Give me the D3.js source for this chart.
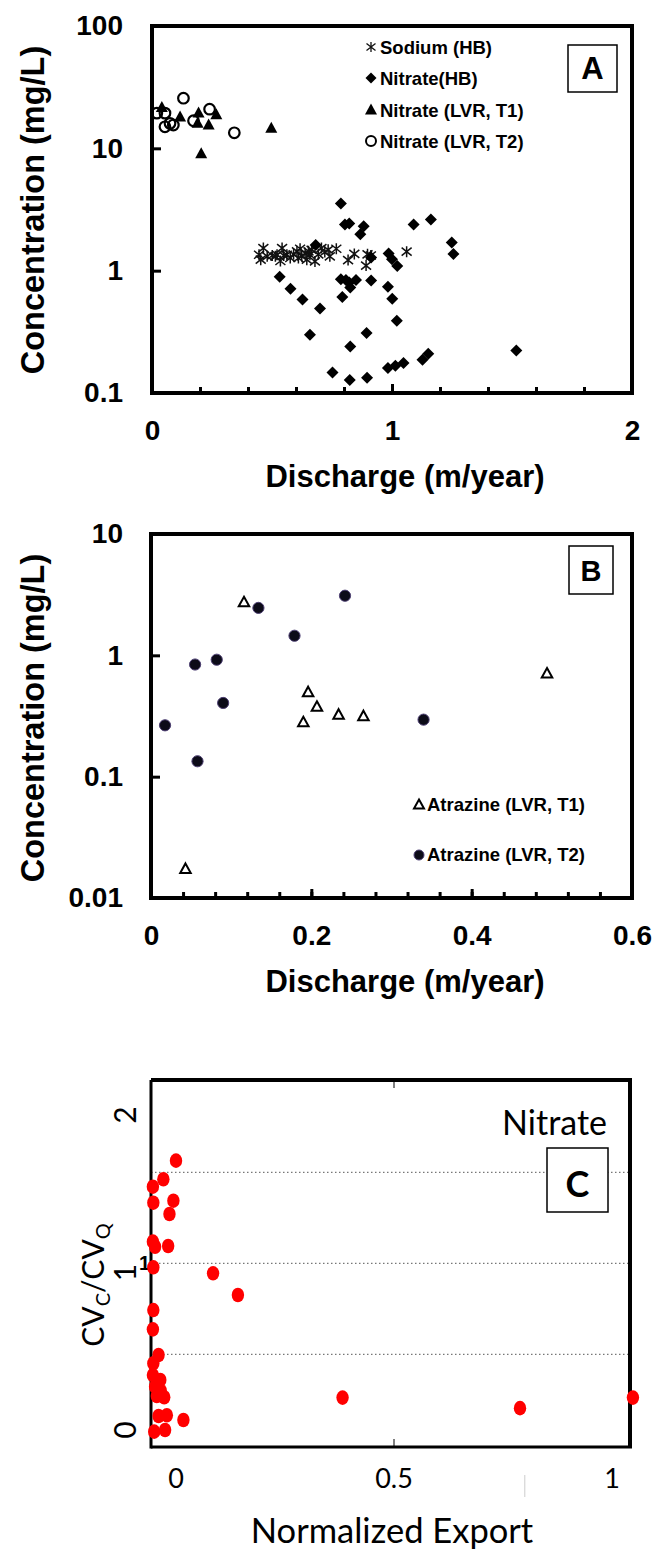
<!DOCTYPE html>
<html><head><meta charset="utf-8">
<script src="https://cdn.jsdelivr.net/npm/d3@7"></script>
<style>body{margin:0;background:#fff}</style>
</head><body>
<svg id="c" width="652" height="1549"></svg>
<script>
// ---------- Panel A data: [discharge (m/year), concentration (mg/L)] ----------
const sodiumHB = [[0.446,1.35],[0.453,1.23],[0.464,1.53],[0.480,1.31],[0.501,1.33],[0.514,1.31],[0.521,1.35],[0.535,1.20],[0.542,1.53],[0.549,1.33],[0.562,1.35],[0.576,1.27],[0.590,1.36],[0.604,1.44],[0.610,1.27],[0.617,1.51],[0.624,1.31],[0.638,1.39],[0.645,1.23],[0.652,1.44],[0.658,1.35],[0.665,1.48],[0.679,1.19],[0.693,1.36],[0.706,1.53],[0.720,1.42],[0.734,1.48],[0.741,1.31],[0.768,1.51],[0.817,1.22],[0.843,1.37],[0.892,1.10],[0.898,1.36],[0.912,1.33],[1.061,1.43]];
const nitrateHB = [[0.787,3.54],[0.804,2.39],[0.822,2.43],[0.882,2.31],[0.868,1.98],[1.090,2.39],[1.162,2.62],[1.249,1.70],[1.256,1.37],[0.682,1.62],[0.913,1.28],[0.986,1.38],[1.000,1.24],[1.022,1.09],[0.532,0.89],[0.577,0.71],[0.627,0.58],[0.700,0.49],[0.787,0.85],[0.808,0.84],[0.826,0.73],[0.850,0.84],[0.822,0.80],[0.913,0.83],[0.983,0.74],[1.001,0.59],[1.020,0.39],[0.793,0.61],[0.658,0.30],[0.894,0.31],[0.826,0.24],[0.752,0.147],[0.824,0.128],[0.896,0.133],[0.983,0.160],[1.014,0.167],[1.048,0.176],[1.127,0.187],[1.151,0.209],[1.518,0.223]];
const nitrateT1 = [[0.041,21.5],[0.117,18.0],[0.194,19.4],[0.190,16.0],[0.236,15.5],[0.268,18.8],[0.497,14.6],[0.205,9.0]];
const nitrateT2 = [[0.131,25.7],[0.020,19.4],[0.054,19.4],[0.054,15.0],[0.075,16.0],[0.089,15.5],[0.173,16.8],[0.240,20.9],[0.343,13.4]];
const legendA = ["Sodium (HB)","Nitrate(HB)","Nitrate (LVR, T1)","Nitrate (LVR, T2)"];
const yTicksA = [0.1,1,10,100];
const xTicksA = [0,1,2];

// ---------- Panel B data ----------
const atrazineT1 = [[0.043,0.0173],[0.116,2.73],[0.190,0.28],[0.196,0.495],[0.207,0.375],[0.234,0.323],[0.265,0.314],[0.494,0.706]];
const atrazineT2 = [[0.0175,0.265],[0.055,0.84],[0.058,0.134],[0.082,0.92],[0.090,0.405],[0.134,2.46],[0.179,1.45],[0.242,3.10],[0.340,0.295]];
const legendB = ["Atrazine (LVR, T1)","Atrazine (LVR, T2)"];
const yTicksB = [0.01,0.1,1,10];
const xTicksB = [0,0.2,0.4,0.6];

// ---------- Panel C data: [normalized export, CVc/CVq] ----------
const nitrateCV = [[0.000,1.564],[-0.029,1.462],[-0.053,1.421],[-0.052,1.333],[-0.006,1.344],[-0.015,1.271],[-0.053,1.119],[-0.048,1.091],[-0.018,1.095],[-0.052,0.978],[0.085,0.945],[0.142,0.826],[-0.052,0.743],[-0.053,0.637],[-0.040,0.496],[-0.052,0.450],[-0.053,0.386],[-0.036,0.359],[-0.048,0.322],[-0.035,0.300],[-0.027,0.264],[-0.044,0.271],[-0.040,0.161],[-0.021,0.165],[0.017,0.139],[-0.050,0.075],[-0.025,0.084],[0.382,0.262],[0.789,0.204],[1.048,0.262]];
const yTicksC = [0,1,2];
const xTicksC = [0,0.5,1];
const gridC = [0.5,1,1.5];

const svg = d3.select("#c");
const ARIAL = "'Liberation Sans', Arial, sans-serif";
const CAL = "Lato, 'Open Sans', sans-serif";

function box(g, x0, x1, y0, y1, w){
  g.append("rect").attr("x",x0).attr("y",y0).attr("width",x1-x0).attr("height",y1-y0)
   .attr("fill","none").attr("stroke","#000").attr("stroke-width",w);
}
const diamond = r => `M0,${-r}L${r},0L0,${r}L${-r},0Z`;
const tri = (w,h) => `M0,${-h*0.6}L${w/2},${h*0.4}L${-w/2},${h*0.4}Z`;
const star = r => `M${-r},${-r*0.8}L${r},${r*0.8}M${-r},${r*0.8}L${r},${-r*0.8}M0,${-r*1.1}L0,${r*1.1}`;
const styleTicks = sel => sel.attr("font-family",ARIAL).attr("font-weight","bold").attr("font-size",28).attr("fill","#000");

// ================= PANEL A =================
{
  const x = d3.scaleLinear([0,2],[152,632]);
  const y = d3.scaleLog([0.1,100],[393,26]);
  const g = svg.append("g");
  g.append("g").attr("transform",`translate(0,${y(0.1)})`)
    .call(d3.axisBottom(x).tickValues(d3.range(0.2,2,0.2)).tickSizeInner(-6).tickSizeOuter(0).tickFormat(""))
    .call(a=>a.select(".domain").remove()).selectAll("line").attr("stroke-width",3);
  g.append("g").attr("transform",`translate(0,${y(0.1)})`)
    .call(d3.axisBottom(x).tickValues(xTicksA).tickSizeInner(-9).tickSizeOuter(0).tickPadding(27).tickFormat(d=>String(d)))
    .call(a=>a.select(".domain").remove())
    .call(a=>a.selectAll("line").attr("stroke-width",3))
    .selectAll("text").call(styleTicks);
  g.append("g").attr("transform",`translate(${x(0)},0)`)
    .call(d3.axisLeft(y).tickValues(yTicksA).tickFormat(d=>String(d)).tickSizeInner(-9).tickSizeOuter(0).tickPadding(29))
    .call(a=>a.select(".domain").remove())
    .call(a=>a.selectAll("line").attr("stroke-width",3))
    .selectAll("text").call(styleTicks);
  box(g, x(0), x(2), y(100), y(0.1), 4);

  g.selectAll(".na").data(sodiumHB).join("path").attr("d",star(5))
    .attr("transform",d=>`translate(${x(d[0])},${y(d[1])})`).attr("stroke","#111").attr("stroke-width",1.5).attr("fill","none");
  g.selectAll(".no").data(nitrateHB).join("path").attr("d",diamond(6))
    .attr("transform",d=>`translate(${x(d[0])},${y(d[1])})`).attr("fill","#000");
  g.selectAll(".t1").data(nitrateT1).join("path").attr("d",tri(12,11))
    .attr("transform",d=>`translate(${x(d[0])},${y(d[1])})`).attr("fill","#000");
  g.selectAll(".t2").data(nitrateT2).join("circle").attr("r",5.3)
    .attr("cx",d=>x(d[0])).attr("cy",d=>y(d[1])).attr("fill","none").attr("stroke","#000").attr("stroke-width",2.2);

  const ly = [54,85,117,148];
  const lg = g.append("g");
  legendA.forEach((t,i)=>{
    const mx = 371, my = ly[i]-7;
    if(i===0) lg.append("path").attr("d",star(4.5)).attr("transform",`translate(${mx},${my})`).attr("stroke","#111").attr("stroke-width",1.3);
    if(i===1) lg.append("path").attr("d",diamond(5.5)).attr("transform",`translate(${mx},${my})`);
    if(i===2) lg.append("path").attr("d",tri(12,11)).attr("transform",`translate(${mx},${my})`);
    if(i===3) lg.append("circle").attr("r",5).attr("cx",mx).attr("cy",my).attr("fill","none").attr("stroke","#000").attr("stroke-width",2);
    lg.append("text").attr("x",380).attr("y",ly[i]).text(t)
      .attr("font-family",ARIAL).attr("font-weight","bold").attr("font-size",18.5);
  });
  box(g, 568, 617, 45, 92, 1.5);
  g.append("text").attr("x",592.5).attr("y",79).attr("text-anchor","middle").text("A")
    .attr("font-family",ARIAL).attr("font-weight","bold").attr("font-size",31);

  g.append("text").attr("x",405).attr("y",487).attr("text-anchor","middle").text("Discharge (m/year)")
    .attr("font-family",ARIAL).attr("font-weight","bold").attr("font-size",31);
  g.append("text").attr("transform","translate(44,210) rotate(-90)").attr("text-anchor","middle").text("Concentration (mg/L)")
    .attr("font-family",ARIAL).attr("font-weight","bold").attr("font-size",32.5);
}

// ================= PANEL B =================
{
  const x = d3.scaleLinear([0,0.6],[151,632]);
  const y = d3.scaleLog([0.01,10],[898,534]);
  const g = svg.append("g");
  g.append("g").attr("transform",`translate(0,${y(0.01)})`)
    .call(d3.axisBottom(x).tickValues(d3.range(1,15).map(i=>i*0.04)).tickSizeInner(-6).tickSizeOuter(0).tickFormat(""))
    .call(a=>a.select(".domain").remove()).selectAll("line").attr("stroke-width",3);
  g.append("g").attr("transform",`translate(0,${y(0.01)})`)
    .call(d3.axisBottom(x).tickValues(xTicksB).tickSizeInner(-9).tickSizeOuter(0).tickPadding(27).tickFormat(d=>String(d)))
    .call(a=>a.select(".domain").remove())
    .call(a=>a.selectAll("line").attr("stroke-width",3))
    .selectAll("text").call(styleTicks);
  g.append("g").attr("transform",`translate(${x(0)},0)`)
    .call(d3.axisLeft(y).tickValues(yTicksB).tickFormat(d=>String(d)).tickSizeInner(-9).tickSizeOuter(0).tickPadding(28))
    .call(a=>a.select(".domain").remove())
    .call(a=>a.selectAll("line").attr("stroke-width",3))
    .selectAll("text").call(styleTicks);
  box(g, x(0), x(0.6), y(10), y(0.01), 4);

  g.selectAll(".b1").data(atrazineT1).join("path").attr("d",tri(10.5,9.5))
    .attr("transform",d=>`translate(${x(d[0])},${y(d[1])})`).attr("fill","#fff").attr("stroke","#000").attr("stroke-width",2);
  g.selectAll(".b2").data(atrazineT2).join("circle").attr("r",5.6)
    .attr("cx",d=>x(d[0])).attr("cy",d=>y(d[1])).attr("fill","#0c0b18").attr("stroke","#4d3f73").attr("stroke-width",1);

  const ly = [811,861];
  legendB.forEach((t,i)=>{
    if(i===0) g.append("path").attr("d",tri(10,9)).attr("transform",`translate(419,${ly[i]-6})`).attr("fill","#fff").attr("stroke","#000").attr("stroke-width",2);
    else g.append("circle").attr("r",5).attr("cx",419).attr("cy",ly[i]-6).attr("fill","#0c0b18").attr("stroke","#4d3f73");
    g.append("text").attr("x",427).attr("y",ly[i]).text(t)
      .attr("font-family",ARIAL).attr("font-weight","bold").attr("font-size",18.5);
  });
  box(g, 569, 613, 546, 594, 1.5);
  g.append("text").attr("x",591).attr("y",581).attr("text-anchor","middle").text("B")
    .attr("font-family",ARIAL).attr("font-weight","bold").attr("font-size",29);

  g.append("text").attr("x",405).attr("y",992).attr("text-anchor","middle").text("Discharge (m/year)")
    .attr("font-family",ARIAL).attr("font-weight","bold").attr("font-size",31);
  g.append("text").attr("transform","translate(44,718) rotate(-90)").attr("text-anchor","middle").text("Concentration (mg/L)")
    .attr("font-family",ARIAL).attr("font-weight","bold").attr("font-size",32.5);
}

// ================= PANEL C =================
{
  const x = d3.scaleLinear([0,1],[176,612]);
  const y = d3.scaleLinear([0,2],[1445.3,1081.3]);
  const yLab = d3.scaleLinear([0,2],[1430,1115]);
  const L = 151, R = 630, T = 1080, B = 1447;
  const g = svg.append("g");
  g.selectAll(".grid").data(gridC).join("line")
    .attr("x1",L).attr("x2",R).attr("y1",d=>y(d)).attr("y2",d=>y(d))
    .attr("stroke","#555").attr("stroke-width",1).attr("stroke-dasharray","1.5,2.5");
  g.append("line").attr("x1",L).attr("x2",R+2).attr("y1",T).attr("y2",T).attr("stroke","#000").attr("stroke-width",4);
  g.append("line").attr("x1",R).attr("x2",R).attr("y1",T).attr("y2",B).attr("stroke","#000").attr("stroke-width",4);
  g.append("line").attr("x1",L).attr("x2",R+2).attr("y1",B).attr("y2",B).attr("stroke","#000").attr("stroke-width",3);
  g.append("line").attr("x1",L).attr("x2",L).attr("y1",T).attr("y2",B+1.5).attr("stroke","#000").attr("stroke-width",3);
  g.append("line").attr("x1",x(0.5)).attr("x2",x(0.5)).attr("y1",T).attr("y2",T+8).attr("stroke","#000").attr("stroke-width",1);
  g.append("line").attr("x1",x(0.5)).attr("x2",x(0.5)).attr("y1",B).attr("y2",B-8).attr("stroke","#000").attr("stroke-width",1);
  g.append("line").attr("x1",x(0.8)).attr("x2",x(0.8)).attr("y1",1475).attr("y2",1497).attr("stroke","#ccc").attr("stroke-width",1);
  g.append("text").attr("x",150).attr("y",y(1)+7).attr("text-anchor","end").text("1")
    .attr("font-family",ARIAL).attr("font-weight","bold").attr("font-size",20);

  g.selectAll(".cv").data(nitrateCV).join("ellipse")
    .attr("cx",d=>x(d[0])).attr("cy",d=>y(d[1])).attr("rx",6.2).attr("ry",7.3).attr("fill","#ff0000");

  g.selectAll(".xl").data(xTicksC).join("text").attr("x",d=>x(d)).attr("y",1488).attr("text-anchor","middle")
    .text(d=>String(d)).attr("font-family",CAL).attr("font-size",27);
  g.selectAll(".yl").data(yTicksC).join("text")
    .attr("transform",d=>`translate(136,${yLab(d)}) rotate(-90)`).attr("text-anchor","middle")
    .text(d=>String(d)).attr("font-family",CAL).attr("font-size",30);

  const yt = g.append("text").attr("transform","translate(104,1285) rotate(-90)").attr("text-anchor","middle")
    .attr("font-family",CAL).attr("font-size",30);
  yt.append("tspan").text("CV");
  yt.append("tspan").text("C").attr("font-size",20).attr("dy",6);
  yt.append("tspan").text("/CV").attr("dy",-6);
  yt.append("tspan").text("Q").attr("font-size",20).attr("dy",6);

  g.append("text").attr("x",392).attr("y",1543).attr("text-anchor","middle").text("Normalized Export")
    .attr("font-family",CAL).attr("font-size",34.5);
  g.append("text").attr("x",607).attr("y",1135).attr("text-anchor","end").text("Nitrate")
    .attr("font-family",CAL).attr("font-size",34);
  g.append("rect").attr("x",547).attr("y",1148).attr("width",61).attr("height",64).attr("fill","#fff").attr("stroke","#000").attr("stroke-width",1.5);
  g.append("text").attr("x",577.5).attr("y",1197).attr("text-anchor","middle").text("C")
    .attr("font-family",CAL).attr("font-weight","bold").attr("font-size",36);
}
</script>
</body></html>
